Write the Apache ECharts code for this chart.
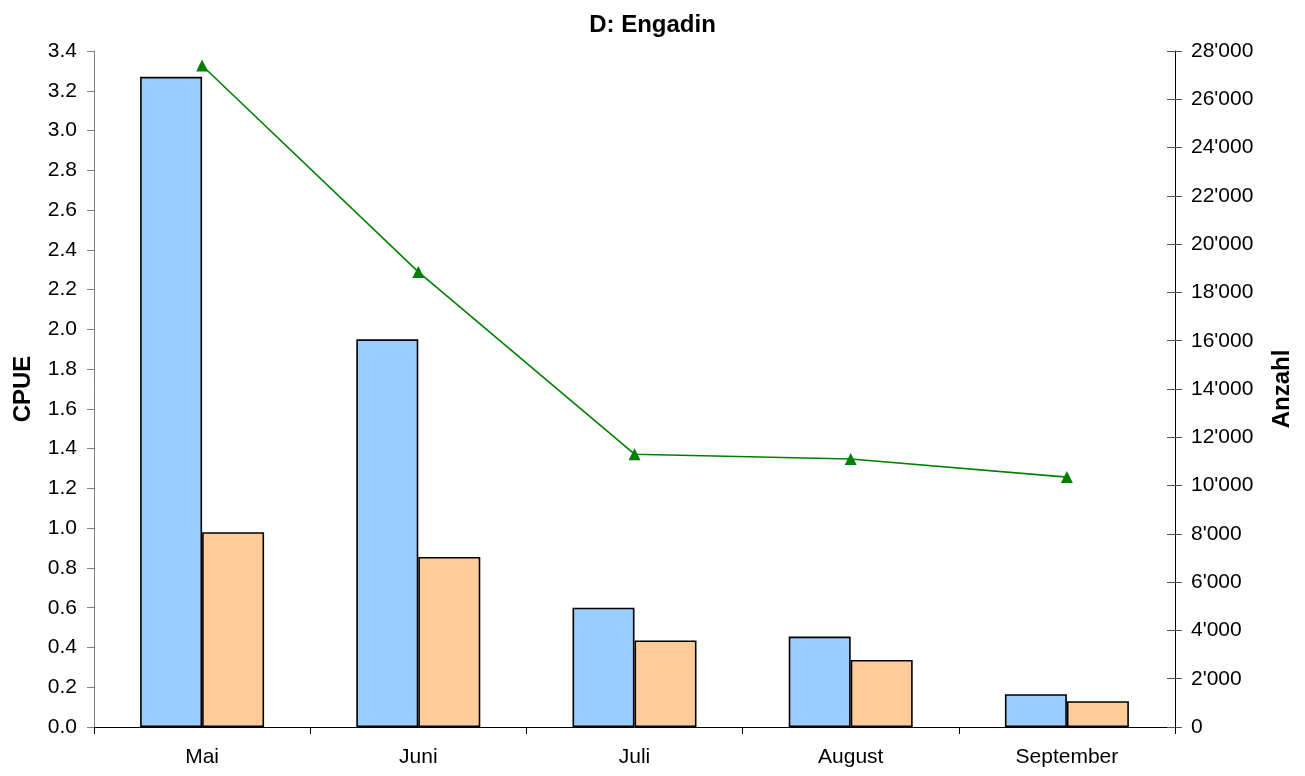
<!DOCTYPE html>
<html>
<head>
<meta charset="utf-8">
<script src="https://cdn.jsdelivr.net/npm/echarts@6/dist/echarts.min.js"></script>
<style>
html,body{margin:0;padding:0;background:#fff;}
#chart{width:1305px;height:776px;}
</style>
</head>
<body>
<div id="chart"></div>
<script>
var categories = ['Mai', 'Juni', 'Juli', 'August', 'September'];
var cpueBlue = [3.27, 1.95, 0.60, 0.455, 0.165];
var cpueOrange = [0.98, 0.855, 0.435, 0.337, 0.13];
var anzahl = [27400, 18850, 11300, 11100, 10350];

var FONT = '"Liberation Sans", Arial, sans-serif';
var chart = echarts.init(document.getElementById('chart'), null, {renderer: 'canvas'});

function fmtThousands(v) {
  var s = String(Math.round(v));
  return s.replace(/\B(?=(\d{3})+(?!\d))/g, "'");
}

chart.setOption({
  backgroundColor: '#fff',
  animation: false,
  title: {
    text: 'D: Engadin',
    left: 'center',
    top: 8,
    textStyle: {fontFamily: FONT, fontSize: 24, fontWeight: 'bold', color: '#000'}
  },
  grid: {left: 94, right: 130, top: 51, bottom: 49, containLabel: false},
  xAxis: {
    type: 'category',
    data: categories,
    boundaryGap: true,
    axisLine: {lineStyle: {color: '#000', width: 1}},
    axisTick: {show: true, alignWithLabel: false, length: 7, lineStyle: {color: '#000'}},
    axisLabel: {fontFamily: FONT, fontSize: 21, color: '#000', margin: 20}
  },
  yAxis: [
    {
      type: 'value',
      min: 0, max: 3.4, interval: 0.2,
      name: 'CPUE',
      nameLocation: 'middle',
      nameGap: 59,
      nameTextStyle: {fontFamily: FONT, fontSize: 24, fontWeight: 'bold', color: '#000'},
      axisLine: {show: true, lineStyle: {color: '#808080'}},
      axisTick: {show: true, length: 7, lineStyle: {color: '#808080'}},
      splitLine: {show: false},
      axisLabel: {fontFamily: FONT, fontSize: 21, color: '#000', margin: 17,
        formatter: function (v) { return v.toFixed(1); }}
    },
    {
      type: 'value',
      position: 'right',
      min: 0, max: 28000, interval: 2000,
      name: 'Anzahl',
      nameLocation: 'middle',
      nameGap: 95,
      nameRotate: 90,
      nameTextStyle: {fontFamily: FONT, fontSize: 24, fontWeight: 'bold', color: '#000'},
      axisLine: {show: true, lineStyle: {color: '#000'}},
      axisTick: {show: true, length: 7, lineStyle: {color: '#555'}},
      splitLine: {show: false},
      axisLabel: {fontFamily: FONT, fontSize: 21, color: '#000', margin: 16,
        formatter: fmtThousands}
    },
    {
      type: 'value',
      position: 'right',
      min: 0, max: 28000, interval: 2000,
      axisLine: {show: false},
      axisTick: {show: true, inside: true, length: 8, lineStyle: {color: '#555'}},
      axisLabel: {show: false},
      splitLine: {show: false}
    }
  ],
  series: [
    {
      type: 'bar',
      data: cpueBlue,
      yAxisIndex: 0,
      barWidth: 62,
      barGap: '0%',
      itemStyle: {color: '#99CCFF', borderColor: '#000', borderWidth: 1.6}
    },
    {
      type: 'bar',
      data: cpueOrange,
      yAxisIndex: 0,
      barWidth: 62,
      barGap: '0%',
      itemStyle: {color: '#FFCC99', borderColor: '#000', borderWidth: 1.6}
    },
    {
      type: 'line',
      data: anzahl,
      yAxisIndex: 1,
      symbol: 'triangle',
      symbolSize: 12,
      lineStyle: {color: '#008000', width: 1.6},
      itemStyle: {color: '#008000'},
      z: 5
    }
  ]
});
</script>
</body>
</html>
